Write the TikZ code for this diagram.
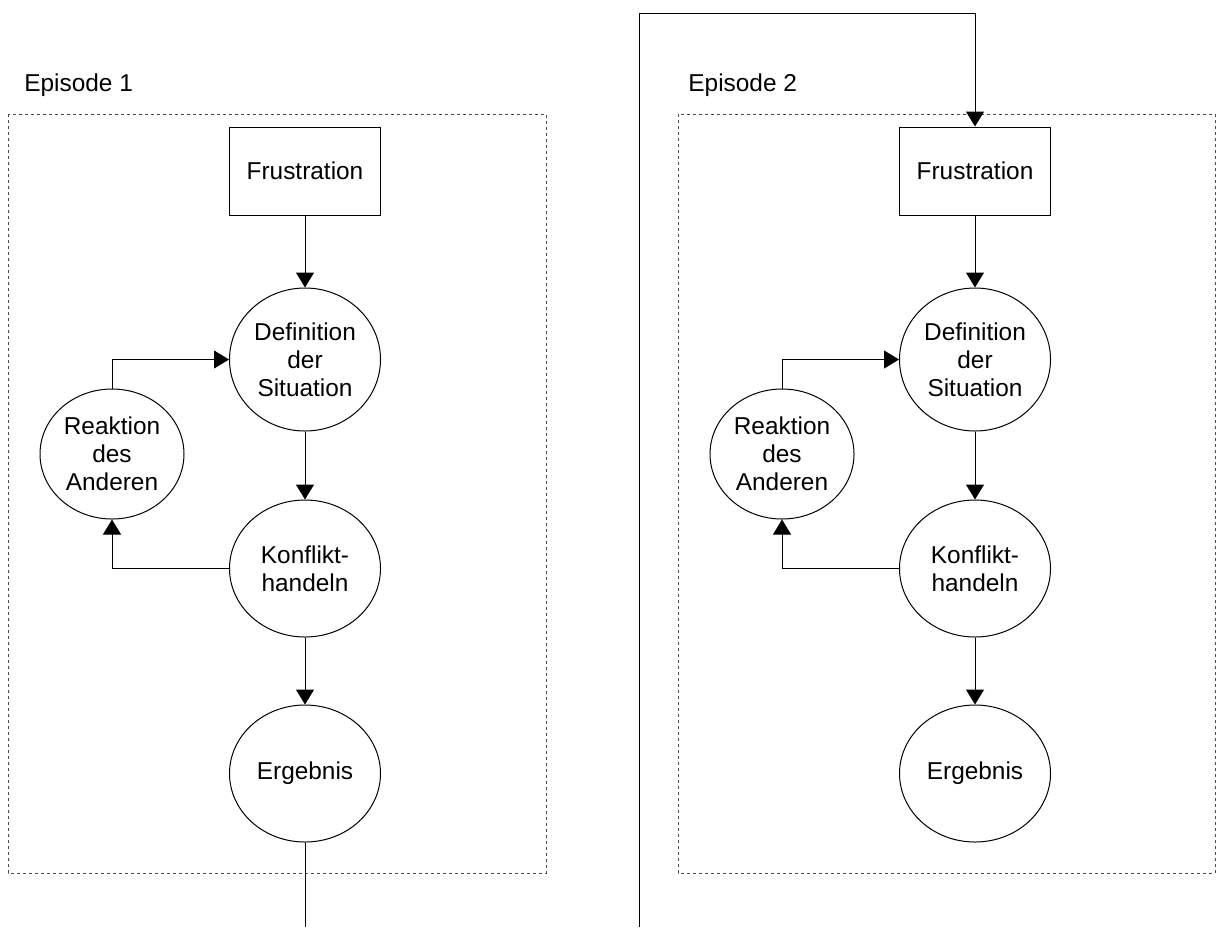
\documentclass[tikz,border=0pt]{standalone}
\usepackage{fontspec}
\setmainfont{Liberation Sans}
\usetikzlibrary{arrows.meta,shapes.geometric}

\begin{document}
\begin{tikzpicture}[x=0.5pt,y=-0.5pt]
		\tikzstyle{every node}=[font=\fontsize{12.2}{14}\selectfont]
		\tikzstyle{kasten} = [draw, align=center, line width=0.5pt, inner sep=0pt, minimum width=75.5pt, minimum height=44pt]
		\tikzstyle{kreis} = [draw, ellipse, align=center, line width=0.5pt, inner sep=0pt, minimum width=75.5pt, minimum height=68.5pt]
		\tikzstyle{titel} = [anchor=west, inner sep=0pt]
		\tikzstyle{pfeil} = [-{Triangle[width=9pt,length=7.5pt]}, line width=0.5pt]
		\tikzstyle{linie} = [line width=0.5pt]
		\tikzstyle{rahmen} = [line width=0.5pt, black!70, dash pattern=on 1.5pt off 1.5pt]
		\useasboundingbox (0,0) rectangle (1218,927);

		% Episode 1
		\draw[rahmen] (8,114) rectangle (546,873);
		\node[titel] (ep1) at (24,85) {Episode 1};
		\node[kasten] (frust1) at (305,171) {Frustration};
		\node[kreis, minimum height=71.5pt] (def1) at (305,359.5) {Definition\\der\\Situation};
		\node[kreis, minimum width=72pt, minimum height=65pt] (reak1) at (112,454) {Reaktion\\des\\Anderen};
		\node[kreis] (konf1) at (305,568.5) {Konflikt-\\handeln};
		\node[kreis] (erg1) at (305,773.5) {Ergebnis};
		\coordinate (aus1) at (305,927);
		\draw[pfeil] (frust1) -- (def1);
		\draw[pfeil] (def1) -- (konf1);
		\draw[pfeil] (konf1) -- (erg1);
		\draw[pfeil] (reak1.north) |- (def1.west);
		\draw[pfeil] (konf1.west) -| (reak1.south);
		\draw[linie] (erg1.south) -- (aus1);

		% Episode 2
		\draw[rahmen] (678,114) rectangle (1215,873);
		\node[titel] (ep2) at (688,85) {Episode 2};
		\node[kasten] (frust2) at (975,171) {Frustration};
		\node[kreis, minimum height=71.5pt] (def2) at (975,359.5) {Definition\\der\\Situation};
		\node[kreis, minimum width=72pt, minimum height=65pt] (reak2) at (782,454) {Reaktion\\des\\Anderen};
		\node[kreis] (konf2) at (975,568.5) {Konflikt-\\handeln};
		\node[kreis] (erg2) at (975,773.5) {Ergebnis};
		\draw[pfeil] (frust2) -- (def2);
		\draw[pfeil] (def2) -- (konf2);
		\draw[pfeil] (konf2) -- (erg2);
		\draw[pfeil] (reak2.north) |- (def2.west);
		\draw[pfeil] (konf2.west) -| (reak2.south);

		% Uebergang
		\coordinate (ein2) at (639,927);
		\coordinate (oben2) at (975,13);
		\draw[pfeil] (ein2) |- (oben2) -- (frust2.north);
\end{tikzpicture}
\end{document}
